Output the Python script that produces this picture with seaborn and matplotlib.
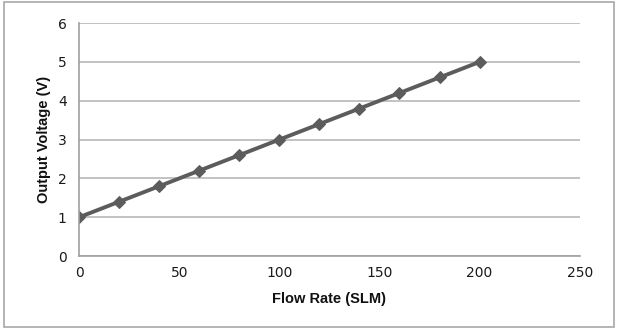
import matplotlib
matplotlib.use("Agg")
import matplotlib.pyplot as plt
from matplotlib.patches import Rectangle
import seaborn as sns
import pandas as pd

flow_rate = [0, 20, 40, 60, 80, 100, 120, 140, 160, 180, 200]
output_voltage = [1.0, 1.4, 1.8, 2.2, 2.6, 3.0, 3.4, 3.8, 4.2, 4.6, 5.0]
x_ticks = [0, 50, 100, 150, 200, 250]
y_ticks = [0, 1, 2, 3, 4, 5, 6]

df = pd.DataFrame({"flow": flow_rate, "volt": output_voltage})

sns.set_theme(style="white")
plt.rcParams["font.family"] = ["DejaVu Sans"]

fig = plt.figure(figsize=(6.18, 3.30), dpi=100)
ax = fig.add_axes([0.128, 0.224, 0.810, 0.706])

sns.lineplot(data=df, x="flow", y="volt", ax=ax, color="#5c5c5c",
             linewidth=2.8, marker="D", markersize=6.5,
             markeredgecolor="#5c5c5c", markerfacecolor="#5c5c5c")

ax.set_xlim(0, 250)
ax.set_ylim(0, 6)
ax.set_xticks(x_ticks)
ax.set_yticks(y_ticks)
ax.yaxis.grid(True, color="#b8b8b8", linewidth=1.2)
ax.xaxis.grid(False)
for side in ["top", "right"]:
    ax.spines[side].set_visible(False)
for side in ["left", "bottom"]:
    ax.spines[side].set_color("#a0a0a0")
    ax.spines[side].set_linewidth(1.2)
ax.tick_params(axis="both", which="both", direction="out", length=4,
               width=1.0, color="#a0a0a0", labelsize=10,
               labelcolor="#1a1a1a", pad=3)
ax.tick_params(axis="y", length=0, pad=9)

ax.set_xlabel("Flow Rate (SLM)", fontsize=10.5, fontweight="bold",
              family=["Liberation Sans"], color="#111111", labelpad=9)
ax.set_ylabel("Output Voltage (V)", fontsize=10.5, fontweight="bold",
              family=["Liberation Sans"], color="#111111", labelpad=5)

fig.patches.append(Rectangle((0.007, 0.009), 0.986, 0.985,
                             transform=fig.transFigure, fill=False,
                             edgecolor="#a8a8a8", linewidth=1.2))

fig.savefig("out.png", dpi=100)
